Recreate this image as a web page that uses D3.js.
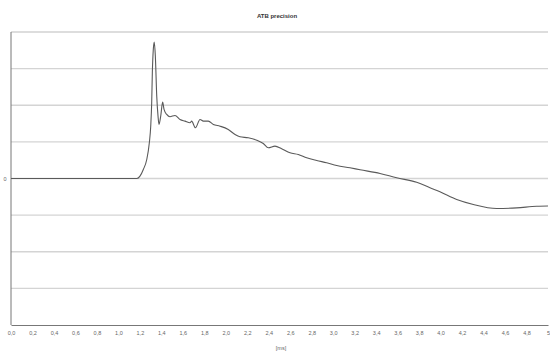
<!DOCTYPE html>
<html>
<head>
<meta charset="utf-8">
<script src="https://cdn.jsdelivr.net/npm/d3@7"></script>
<style>
  body { margin: 0; background: #fff; }
  svg { display: block; font-family: "Liberation Sans", Arial, sans-serif; }
  .grid line { stroke: #d4d4d4; stroke-width: 1.4; }
  .tick text { fill: #666; }
</style>
</head>
<body>
<svg id="chart" width="550" height="352"></svg>
<script>
// time in ms
var TIMES = [0, 1.173, 1.201, 1.232, 1.264, 1.288, 1.301, 1.310, 1.316, 1.325, 1.334,
  1.344, 1.357, 1.369, 1.378, 1.394, 1.412, 1.425, 1.450, 1.480, 1.527, 1.574, 1.620,
  1.667, 1.682, 1.717, 1.760, 1.791, 1.837, 1.884, 1.946, 2.023, 2.086, 2.132, 2.209,
  2.288, 2.349, 2.396, 2.458, 2.520, 2.598, 2.675, 2.753, 2.846, 2.939, 3.033, 3.156,
  3.250, 3.436, 3.591, 3.777, 3.901, 3.994, 4.150, 4.305, 4.522, 4.709, 4.895, 5.0];
// precision values
var VALUES = [0, 0, 0.063, 0.246, 0.519, 0.975, 1.429, 2.068, 2.888, 3.525, 3.724,
  3.342, 2.249, 1.702, 1.475, 1.702, 2.085, 1.885, 1.749, 1.686, 1.721, 1.612, 1.566,
  1.522, 1.566, 1.385, 1.612, 1.566, 1.566, 1.475, 1.429, 1.339, 1.202, 1.139, 1.112,
  1.046, 0.956, 0.839, 0.883, 0.811, 0.702, 0.656, 0.566, 0.492, 0.429, 0.355, 0.292,
  0.238, 0.137, 0.019, -0.101, -0.254, -0.363, -0.574, -0.710, -0.820, -0.801, -0.757, -0.751];

var X_TICKS = d3.range(0, 26).map(function(i) { return i * 0.2; });
var Y_GRID = [-4, -3, -2, -1, 0, 1, 2, 3, 4];

var svg = d3.select('#chart');
var margin = {left: 11, right: 2, top: 32, bottom: 27};
var W = 550, H = 352;

var x = d3.scaleLinear().domain([0, 5]).range([margin.left, W - margin.right]);
var y = d3.scaleLinear().domain([-4, 4]).range([H - margin.bottom, margin.top]);

// gridlines
svg.append('g').attr('class', 'grid')
  .selectAll('line')
  .data(Y_GRID.filter(function(d) { return d > -4 && d < 4; }))
  .enter().append('line')
  .attr('x1', x(0)).attr('x2', x(5))
  .attr('y1', function(d) { return y(d); })
  .attr('y2', function(d) { return y(d); });

// frame
svg.append('line').attr('x1', x(0)).attr('x2', x(5)).attr('y1', y(4)).attr('y2', y(4))
  .attr('stroke', '#bbb').attr('stroke-width', 1);
svg.append('line').attr('x1', x(0)).attr('x2', x(0)).attr('y1', y(4)).attr('y2', y(-4))
  .attr('stroke', '#777').attr('stroke-width', 1);

// x axis, comma decimals; last one just "5"
var fmt = function(d) {
  if (Math.abs(d - 5) < 1e-9) return '5';
  return d3.format('.1f')(d).replace('.', ',');
};
var xAxis = svg.append('g')
  .attr('transform', 'translate(0,' + y(-4) + ')')
  .call(d3.axisBottom(x).tickValues(X_TICKS).tickFormat(fmt).tickSize(0).tickPadding(6));
xAxis.select('.domain').attr('stroke', '#777').attr('stroke-width', 1.2);
xAxis.selectAll('text').attr('font-size', 5.5).attr('font-family', '"Liberation Sans", Arial, sans-serif');

// y label for zero only
svg.append('text').attr('x', 5).attr('y', y(0) + 2)
  .attr('text-anchor', 'middle').attr('font-size', 5.5).attr('fill', '#666').text('0');

// line
var line = d3.line()
  .x(function(d, i) { return x(TIMES[i]); })
  .y(function(d) { return y(d); })
  .curve(d3.curveMonotoneX);

svg.append('path')
  .datum(VALUES)
  .attr('fill', 'none')
  .attr('stroke', '#5a5a5a')
  .attr('stroke-width', 1.1)
  .attr('d', line);

// title
svg.append('text').attr('x', 277).attr('y', 18)
  .attr('text-anchor', 'middle').attr('font-size', 6).attr('font-weight', 'bold')
  .attr('fill', '#333').text('ATB precision');

// x axis label
svg.append('text').attr('x', 281).attr('y', 350)
  .attr('text-anchor', 'middle').attr('font-size', 5.5).attr('fill', '#666').text('[ms]');
</script>
</body>
</html>
